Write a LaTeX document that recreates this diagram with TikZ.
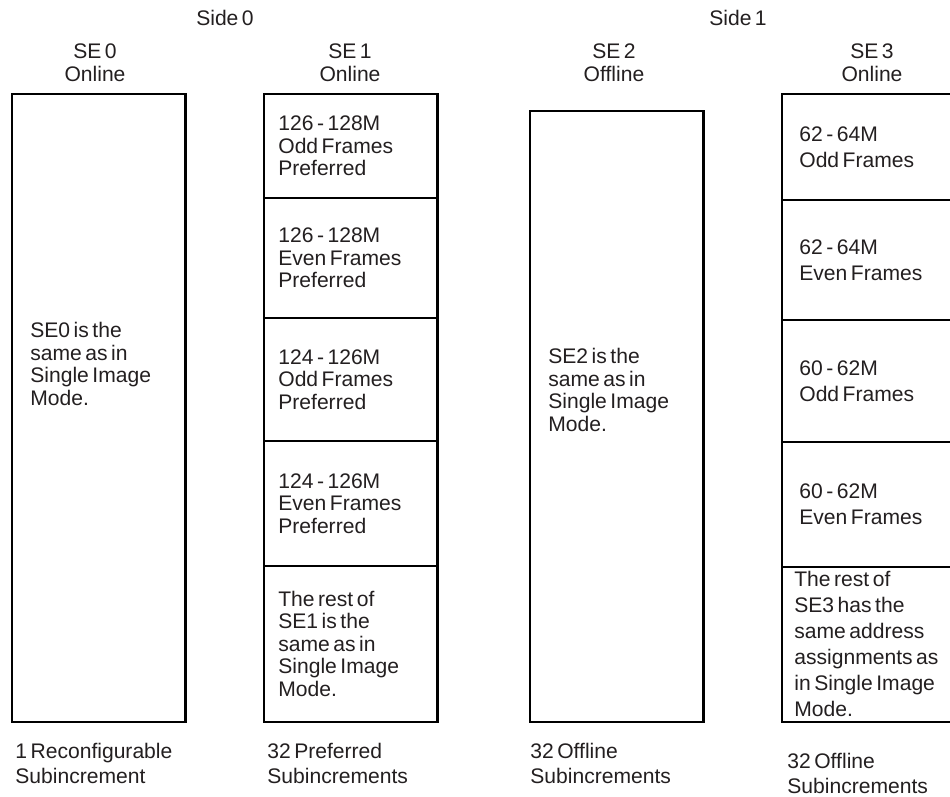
\documentclass[tikz,border=0pt]{standalone}
\usepackage{fontspec}
\setmainfont{Liberation Sans}[WordSpace=0.6]
\usetikzlibrary{positioning}
\definecolor{ink}{HTML}{231F20}
\tikzset{
  sebox/.style={draw, line width=1.5pt, anchor=north west, minimum width=3.47cm, inner sep=0pt, outer sep=0pt},
  txt/.style={text=ink, inner sep=0pt, font=\fontsize{12}{12.8}\selectfont},
  bodytxt/.style={txt, align=left, anchor=west},
  widetxt/.style={font=\fontsize{12}{14.8}\selectfont},
  headtxt/.style={txt, align=center, font=\fontsize{12}{13.1}\selectfont},
  foottxt/.style={txt, align=left, anchor=north west, font=\fontsize{12}{14.2}\selectfont},
}

\begin{document}
\begin{tikzpicture}[x=0.02cm, y=-0.02cm]
  \useasboundingbox (0,0) rectangle (950,797);
  \clip (0,0) rectangle (950,797);
  % sides and headings
  \node[txt] (side0) at (225,18) {Side 0};
  \node[txt] (side1) at (738,18) {Side 1};
  \node[headtxt] (head0) at (95,63) {SE 0\\Online};
  \node[headtxt] (head1) at (350,63) {SE 1\\Online};
  \node[headtxt] (head2) at (614,63) {SE 2\\Offline};
  \node[headtxt] (head3) at (872,63) {SE 3\\Online};
  % SE 0
  \node[sebox, minimum height=12.56cm] (se0) at (12,94) {};
  \node[bodytxt] (se0txt) at (30,364) {SE0 is the\\same as in\\Single Image\\Mode.};
  % SE 1
  \node[sebox, minimum height=2.08cm] (se1a) at (264,94) {};
  \node[sebox, minimum height=2.40cm] (se1b) at (se1a.south west) {};
  \node[sebox, minimum height=2.46cm] (se1c) at (se1b.south west) {};
  \node[sebox, minimum height=2.50cm] (se1d) at (se1c.south west) {};
  \node[sebox, minimum height=3.12cm] (se1e) at (se1d.south west) {};
  \node[bodytxt, right=0.28cm of se1a.west] (se1atxt) {126 - 128M\\Odd Frames\\Preferred};
  \node[bodytxt, right=0.28cm of se1b.west] (se1btxt) {126 - 128M\\Even Frames\\Preferred};
  \node[bodytxt, right=0.28cm of se1c.west] (se1ctxt) {124 - 126M\\Odd Frames\\Preferred};
  \node[bodytxt, right=0.28cm of se1d.west] (se1dtxt) {124 - 126M\\Even Frames\\Preferred};
  \node[bodytxt, right=0.28cm of se1e.west] (se1etxt) {The rest of\\SE1 is the\\same as in\\Single Image\\Mode.};
  % SE 2
  \node[sebox, minimum height=12.22cm] (se2) at (530,111) {};
  \node[bodytxt] (se2txt) at (548,390) {SE2 is the\\same as in\\Single Image\\Mode.};
  % SE 3
  \node[sebox, minimum height=2.12cm] (se3a) at (782,94) {};
  \node[sebox, minimum height=2.40cm] (se3b) at (se3a.south west) {};
  \node[sebox, minimum height=2.44cm] (se3c) at (se3b.south west) {};
  \node[sebox, minimum height=2.50cm] (se3d) at (se3c.south west) {};
  \node[sebox, minimum height=3.10cm] (se3e) at (se3d.south west) {};
  \node[bodytxt, widetxt, right=0.34cm of se3a.west] (se3atxt) {62 - 64M\\Odd Frames};
  \node[bodytxt, widetxt, right=0.34cm of se3b.west] (se3btxt) {62 - 64M\\Even Frames};
  \node[bodytxt, widetxt, right=0.34cm of se3c.west] (se3ctxt) {60 - 62M\\Odd Frames};
  \node[bodytxt, widetxt, right=0.34cm of se3d.west] (se3dtxt) {60 - 62M\\Even Frames};
  \node[bodytxt, widetxt, right=0.24cm of se3e.west] (se3etxt) {The rest of\\SE3 has the\\same address\\assignments as\\in Single Image\\Mode.};
  % footers
  \node[foottxt] (foot0) at (15,743) {1 Reconfigurable\\Subincrement};
  \node[foottxt] (foot1) at (267,743) {32 Preferred\\Subincrements};
  \node[foottxt] (foot2) at (530,743) {32 Offline\\Subincrements};
  \node[foottxt] (foot3) at (787,753) {32 Offline\\Subincrements};
\end{tikzpicture}
\end{document}
